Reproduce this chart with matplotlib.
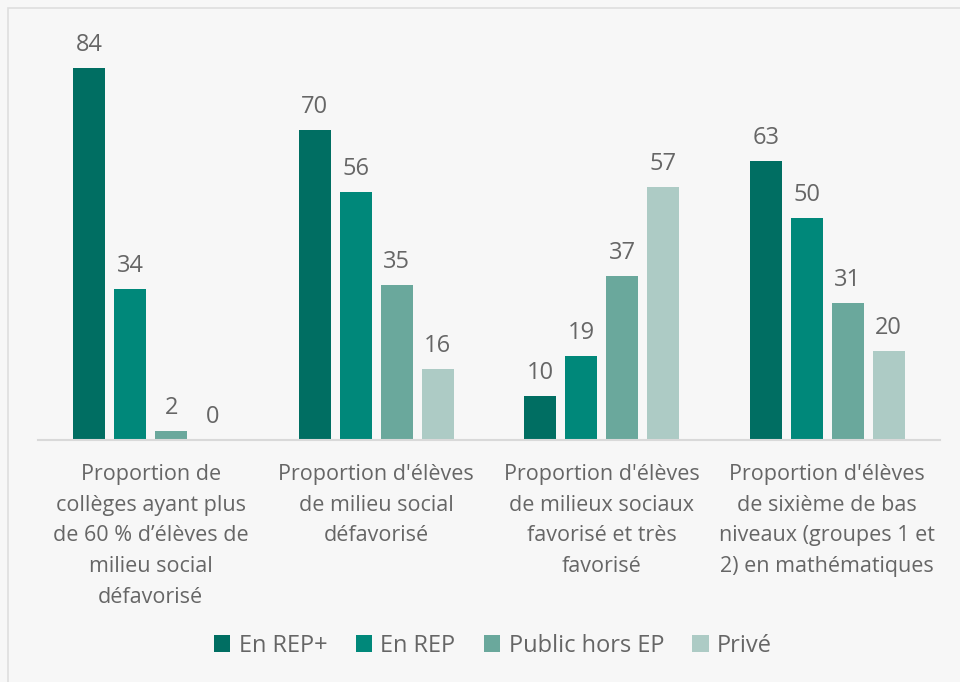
import numpy as np
import matplotlib.pyplot as plt
from matplotlib.patches import Rectangle

plt.rcParams['font.family'] = ['Open Sans', 'DejaVu Sans']

categories = ["Proportion de\ncollèges ayant plus\nde 60 % d’élèves de\nmilieu social\ndéfavorisé",
              "Proportion d'élèves\nde milieu social\ndéfavorisé",
              "Proportion d'élèves\nde milieux sociaux\nfavorisé et très\nfavorisé",
              "Proportion d'élèves\nde sixième de bas\nniveaux (groupes 1 et\n2) en mathématiques"]
series_names = ["En REP+", "En REP", "Public hors EP", "Privé"]
rep_plus = [84, 70, 10, 63]
rep = [34, 56, 19, 50]
public_hors_ep = [2, 35, 37, 31]
prive = [0, 16, 57, 20]

colors = ["#006e62", "#00887a", "#6aa89c", "#adcbc5"]
txt = "#666666"
bg = "#f7f7f7"

fig = plt.figure(figsize=(9.6, 6.82), dpi=100, facecolor=bg)
fig.patches.append(Rectangle((8/960, -0.01), 1.0, 1 - 8/682 + 0.01, transform=fig.transFigure,
                             fill=False, edgecolor="#dedede", linewidth=1.2))
ax = fig.add_axes([38/960, (682-440)/682, 902/960, 421/682])
ax.set_facecolor(bg)

x = np.arange(len(categories))
w = 0.1416
step = 0.1815
data = [rep_plus, rep, public_hors_ep, prive]
for i, (vals, name, c) in enumerate(zip(data, series_names, colors)):
    pos = x + (i - 1.5) * step
    bars = ax.bar(pos, vals, width=w, color=c, label=name, zorder=2)
    for xp, v in zip(pos, vals):
        ax.annotate(str(v), (xp, v), xytext=(0, 8), textcoords="offset points",
                    ha="center", va="bottom", fontsize=17, color=txt)

ax.set_xlim(-0.5, 3.5)
ax.set_ylim(0, 95)
ax.set_yticks([])
for s in ["top", "left", "right"]:
    ax.spines[s].set_visible(False)
ax.spines["bottom"].set_color("#d9d9d9")
ax.spines["bottom"].set_linewidth(1.5)
ax.set_xticks(x)
ax.set_xticklabels(categories, fontsize=15.5, color=txt, linespacing=1.62)
ax.tick_params(axis="x", length=0, pad=17)

leg = fig.legend(loc="center", bbox_to_anchor=(493/960, 1 - 646/682), ncol=4, frameon=False,
                 fontsize=17, handlelength=0.7, handleheight=0.7, handletextpad=0.35,
                 columnspacing=1.2)
for t in leg.get_texts():
    t.set_color(txt)

fig.savefig("out.png", dpi=100, facecolor=bg)
